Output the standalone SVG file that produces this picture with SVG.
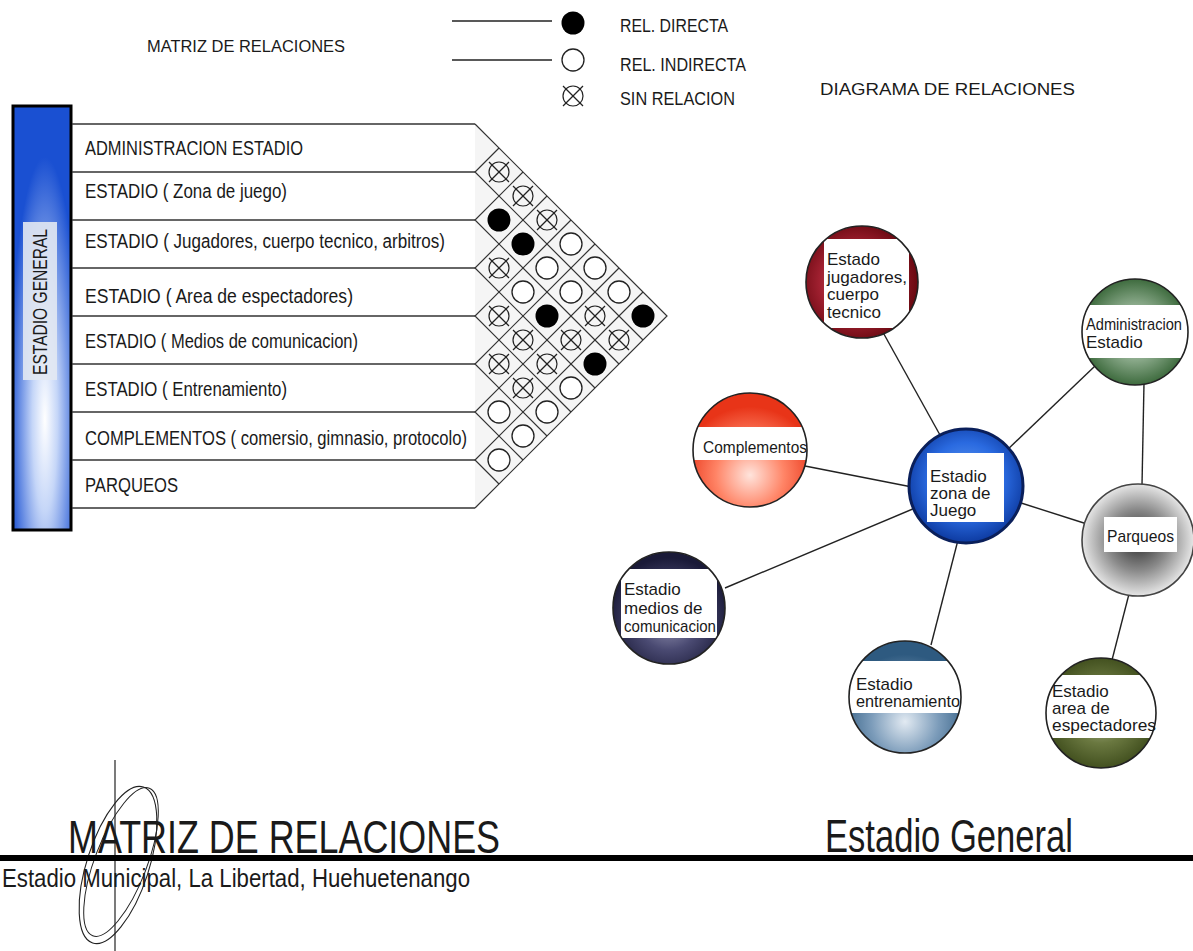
<svg xmlns="http://www.w3.org/2000/svg" width="1193" height="951" viewBox="0 0 1193 951">
<style>
  .t { font-family: "Liberation Sans Narrow", "Liberation Sans", Arial, sans-serif; fill: #1a1a1a; }
  .row { font-size: 20px; }
  .lbl { font-size: 17px; }
  .rowline { stroke: #333; stroke-width: 1.4; fill: none; }
  .grid { stroke: #333; stroke-width: 1.2; fill: none; }
  .conn { stroke: #222; stroke-width: 1.4; fill: none; }
  .nodec { stroke: #222; stroke-width: 1.6; }
  .box { fill: #ffffff; }
</style>
<defs>
  <radialGradient id="gBar" cx="0.55" cy="0.74" r="0.62">
    <stop offset="0" stop-color="#ffffff"/>
    <stop offset="0.35" stop-color="#c5d6f8"/>
    <stop offset="1" stop-color="#1a50d2"/>
  </radialGradient>
  <radialGradient id="gRed" cx="0.45" cy="0.5" r="0.55">
    <stop offset="0" stop-color="#d06070"/>
    <stop offset="0.6" stop-color="#a02030"/>
    <stop offset="1" stop-color="#680810"/>
  </radialGradient>
  <radialGradient id="gOrange" cx="0.5" cy="0.72" r="0.6">
    <stop offset="0" stop-color="#ffe4dc"/>
    <stop offset="0.5" stop-color="#ff8466"/>
    <stop offset="1" stop-color="#e83418"/>
  </radialGradient>
  <radialGradient id="gGreen" cx="0.5" cy="0.5" r="0.55">
    <stop offset="0" stop-color="#dce8dc"/>
    <stop offset="0.5" stop-color="#86a686"/>
    <stop offset="1" stop-color="#2e5e2e"/>
  </radialGradient>
  <radialGradient id="gBlue" cx="0.5" cy="0.45" r="0.55">
    <stop offset="0" stop-color="#6aa2f2"/>
    <stop offset="0.6" stop-color="#2a6ae0"/>
    <stop offset="1" stop-color="#0d3aa0"/>
  </radialGradient>
  <radialGradient id="gGray" cx="0.5" cy="0.5" r="0.55">
    <stop offset="0" stop-color="#2a2a2a"/>
    <stop offset="0.5" stop-color="#8a8a8a"/>
    <stop offset="1" stop-color="#fafafa"/>
  </radialGradient>
  <radialGradient id="gNavy" cx="0.5" cy="0.6" r="0.55">
    <stop offset="0" stop-color="#9a9ab8"/>
    <stop offset="0.5" stop-color="#4a4a72"/>
    <stop offset="1" stop-color="#1a1a38"/>
  </radialGradient>
  <radialGradient id="gSteel" cx="0.5" cy="0.72" r="0.6">
    <stop offset="0" stop-color="#e2eaf2"/>
    <stop offset="0.5" stop-color="#7c9cba"/>
    <stop offset="1" stop-color="#2e5a80"/>
  </radialGradient>
  <radialGradient id="gOlive" cx="0.5" cy="0.5" r="0.55">
    <stop offset="0" stop-color="#bcc4a4"/>
    <stop offset="0.5" stop-color="#6a7840"/>
    <stop offset="1" stop-color="#3a4818"/>
  </radialGradient>
  <clipPath id="cRed"><circle cx="862" cy="282" r="56"/></clipPath>
  <clipPath id="cOrange"><circle cx="750" cy="450" r="57"/></clipPath>
  <clipPath id="cGreen"><circle cx="1135" cy="332" r="53"/></clipPath>
  <clipPath id="cNavy"><circle cx="669" cy="608" r="56"/></clipPath>
  <clipPath id="cSteel"><circle cx="905" cy="697" r="56"/></clipPath>
  <clipPath id="cOlive"><circle cx="1101" cy="713" r="55"/></clipPath>
  <g id="sFull"><circle r="11.5" fill="#000"/></g>
  <g id="sOpen"><circle r="11" fill="#fff" stroke="#222" stroke-width="1.3"/></g>
  <g id="sNone" fill="none" stroke="#222" stroke-width="1.2">
    <circle r="10"/>
    <line x1="-10" y1="-10" x2="10" y2="10"/>
    <line x1="-10" y1="10" x2="10" y2="-10"/>
  </g>
</defs>

<rect width="1193" height="951" fill="#ffffff"/>

<!-- headings -->
<text class="t" x="147" y="52" font-size="16" textLength="198" lengthAdjust="spacingAndGlyphs">MATRIZ DE RELACIONES</text>
<text class="t" x="820" y="95" font-size="16" textLength="255" lengthAdjust="spacingAndGlyphs">DIAGRAMA DE RELACIONES</text>

<!-- legend -->
<g id="legend">
  <line x1="452" y1="21" x2="552" y2="21" stroke="#222" stroke-width="1.5"/>
  <line x1="452" y1="60" x2="552" y2="60" stroke="#222" stroke-width="1.5"/>
  <use href="#sFull" x="573" y="23"/>
  <use href="#sOpen" x="573" y="60"/>
  <use href="#sNone" x="573" y="96"/>
  <text class="t" x="620" y="32" font-size="19" textLength="108" lengthAdjust="spacingAndGlyphs">REL. DIRECTA</text>
  <text class="t" x="620" y="71" font-size="19" textLength="126" lengthAdjust="spacingAndGlyphs">REL. INDIRECTA</text>
  <text class="t" x="620" y="105" font-size="19" textLength="115" lengthAdjust="spacingAndGlyphs">SIN RELACION</text>
</g>

<!-- left bar -->
<g id="bar">
  <rect x="13" y="106" width="58" height="424" fill="url(#gBar)" stroke="#000" stroke-width="3"/>
  <rect x="23" y="222" width="34" height="158" fill="#e2e8f2" opacity="0.9"/>
  <text class="t" font-size="20" transform="translate(47,375) rotate(-90)" textLength="146" lengthAdjust="spacingAndGlyphs">ESTADIO GENERAL</text>
</g>

<!-- matrix rows -->
<g id="matrix">
  <polygon points="475,124 667,316 475,508" fill="#f5f5f5" stroke="none"/>
  <g class="rowline">
    <line x1="72" y1="124" x2="475" y2="124"/>
    <line x1="72" y1="172" x2="475" y2="172"/>
    <line x1="72" y1="220" x2="475" y2="220"/>
    <line x1="72" y1="268" x2="475" y2="268"/>
    <line x1="72" y1="316" x2="475" y2="316"/>
    <line x1="72" y1="364" x2="475" y2="364"/>
    <line x1="72" y1="412" x2="475" y2="412"/>
    <line x1="72" y1="460" x2="475" y2="460"/>
    <line x1="72" y1="508" x2="475" y2="508"/>
  </g>
  <g class="grid">
    <polyline points="475,124 667,316 475,508"/>
    <polyline points="499,148 475,172 643,340"/>
    <polyline points="523,172 475,220 619,364"/>
    <polyline points="547,196 475,268 595,388"/>
    <polyline points="571,220 475,316 571,412"/>
    <polyline points="595,244 475,364 547,436"/>
    <polyline points="619,268 475,412 523,460"/>
    <polyline points="643,292 475,460 499,484"/>
  </g>
  <g class="t row">
    <text x="85" y="155" textLength="218" lengthAdjust="spacingAndGlyphs">ADMINISTRACION ESTADIO</text>
    <text x="85" y="198" textLength="202" lengthAdjust="spacingAndGlyphs">ESTADIO ( Zona de juego)</text>
    <text x="85" y="248" textLength="360" lengthAdjust="spacingAndGlyphs">ESTADIO ( Jugadores, cuerpo tecnico, arbitros)</text>
    <text x="85" y="303" textLength="268" lengthAdjust="spacingAndGlyphs">ESTADIO ( Area de espectadores)</text>
    <text x="85" y="348" textLength="273" lengthAdjust="spacingAndGlyphs">ESTADIO ( Medios de comunicacion)</text>
    <text x="85" y="396" textLength="202" lengthAdjust="spacingAndGlyphs">ESTADIO ( Entrenamiento)</text>
    <text x="85" y="445" textLength="382" lengthAdjust="spacingAndGlyphs">COMPLEMENTOS ( comersio, gimnasio, protocolo)</text>
    <text x="85" y="492" textLength="93" lengthAdjust="spacingAndGlyphs">PARQUEOS</text>
  </g>
  <g id="cells">
    <use href="#sFull" x="499" y="220"/>
    <use href="#sFull" x="523" y="244"/>
    <use href="#sFull" x="547" y="316"/>
    <use href="#sFull" x="643" y="316"/>
    <use href="#sFull" x="595" y="364"/>
    <use href="#sOpen" x="571" y="244"/>
    <use href="#sOpen" x="547" y="268"/>
    <use href="#sOpen" x="595" y="268"/>
    <use href="#sOpen" x="523" y="292"/>
    <use href="#sOpen" x="571" y="292"/>
    <use href="#sOpen" x="619" y="292"/>
    <use href="#sOpen" x="571" y="388"/>
    <use href="#sOpen" x="499" y="412"/>
    <use href="#sOpen" x="547" y="412"/>
    <use href="#sOpen" x="523" y="436"/>
    <use href="#sOpen" x="499" y="460"/>
    <use href="#sNone" x="499" y="172"/>
    <use href="#sNone" x="523" y="196"/>
    <use href="#sNone" x="547" y="220"/>
    <use href="#sNone" x="499" y="268"/>
    <use href="#sNone" x="499" y="316"/>
    <use href="#sNone" x="595" y="316"/>
    <use href="#sNone" x="523" y="340"/>
    <use href="#sNone" x="571" y="340"/>
    <use href="#sNone" x="619" y="340"/>
    <use href="#sNone" x="499" y="364"/>
    <use href="#sNone" x="547" y="364"/>
    <use href="#sNone" x="523" y="388"/>
  </g>
</g>

<!-- connectors -->
<g id="connectors" class="conn">
  <line x1="880" y1="327" x2="940" y2="435"/>
  <line x1="805" y1="466" x2="912" y2="487"/>
  <line x1="1095" y1="366" x2="1005" y2="452"/>
  <line x1="1144" y1="383" x2="1142" y2="485"/>
  <line x1="1018" y1="502" x2="1087" y2="524"/>
  <line x1="725" y1="588" x2="915" y2="508"/>
  <line x1="958" y1="540" x2="931" y2="645"/>
  <line x1="1129" y1="594" x2="1112" y2="660"/>
</g>

<!-- nodes -->
<g id="node-jugadores">
  <circle cx="862" cy="282" r="56" fill="url(#gRed)"/>
  <rect class="box" x="824" y="239" width="85" height="89" clip-path="url(#cRed)"/>
  <circle cx="862" cy="282" r="56" fill="none" class="nodec"/>
  <g class="t lbl">
    <text x="827" y="265">Estado</text>
    <text x="827" y="283" textLength="80" lengthAdjust="spacingAndGlyphs">jugadores,</text>
    <text x="827" y="300">cuerpo</text>
    <text x="827" y="318">tecnico</text>
  </g>
</g>

<g id="node-complementos">
  <circle cx="750" cy="450" r="57" fill="url(#gOrange)"/>
  <rect class="box" x="693" y="427" width="116" height="33" clip-path="url(#cOrange)"/>
  <circle cx="750" cy="450" r="57" fill="none" class="nodec"/>
  <text class="t lbl" x="703" y="453" textLength="104" lengthAdjust="spacingAndGlyphs">Complementos</text>
</g>

<g id="node-administracion">
  <circle cx="1135" cy="332" r="53" fill="url(#gGreen)"/>
  <rect class="box" x="1080" y="305" width="110" height="53" clip-path="url(#cGreen)"/>
  <circle cx="1135" cy="332" r="53" fill="none" class="nodec"/>
  <g class="t lbl">
    <text x="1086" y="330" textLength="96" lengthAdjust="spacingAndGlyphs">Administracion</text>
    <text x="1086" y="348">Estadio</text>
  </g>
</g>

<g id="node-zona">
  <circle cx="966" cy="486" r="57" fill="url(#gBlue)"/>
  <rect class="box" x="927" y="453" width="77" height="69"/>
  <circle cx="966" cy="486" r="57" fill="none" stroke="#0a1f5a" stroke-width="3"/>
  <g class="t lbl">
    <text x="930" y="482">Estadio</text>
    <text x="930" y="499">zona de</text>
    <text x="930" y="516">Juego</text>
  </g>
</g>

<g id="node-parqueos">
  <circle cx="1138" cy="540" r="56" fill="url(#gGray)"/>
  <rect class="box" x="1104" y="517" width="73" height="35"/>
  <circle cx="1138" cy="540" r="56" fill="none" stroke="#444" stroke-width="1.6"/>
  <text class="t lbl" x="1107" y="542" textLength="67" lengthAdjust="spacingAndGlyphs">Parqueos</text>
</g>

<g id="node-medios">
  <circle cx="669" cy="608" r="56" fill="url(#gNavy)"/>
  <rect class="box" x="621" y="569" width="96" height="69" clip-path="url(#cNavy)"/>
  <circle cx="669" cy="608" r="56" fill="none" class="nodec"/>
  <g class="t lbl">
    <text x="624" y="595">Estadio</text>
    <text x="624" y="614">medios de</text>
    <text x="624" y="632" textLength="92" lengthAdjust="spacingAndGlyphs">comunicacion</text>
  </g>
</g>

<g id="node-entrenamiento">
  <circle cx="905" cy="697" r="56" fill="url(#gSteel)"/>
  <rect class="box" x="848" y="661" width="114" height="52" clip-path="url(#cSteel)"/>
  <circle cx="905" cy="697" r="56" fill="none" class="nodec"/>
  <g class="t lbl">
    <text x="856" y="690">Estadio</text>
    <text x="856" y="707" textLength="104" lengthAdjust="spacingAndGlyphs">entrenamiento</text>
  </g>
</g>

<g id="node-espectadores">
  <circle cx="1101" cy="713" r="55" fill="url(#gOlive)"/>
  <rect class="box" x="1045" y="675" width="112" height="63" clip-path="url(#cOlive)"/>
  <circle cx="1101" cy="713" r="55" fill="none" class="nodec"/>
  <g class="t lbl">
    <text x="1052" y="697">Estadio</text>
    <text x="1052" y="714">area de</text>
    <text x="1052" y="731" textLength="104" lengthAdjust="spacingAndGlyphs">espectadores</text>
  </g>
</g>

<!-- title block -->
<g id="title">
  <line x1="115" y1="760" x2="115" y2="951" stroke="#222" stroke-width="1.2"/>
  <ellipse cx="118" cy="865" rx="31" ry="82" transform="rotate(18 118 865)" fill="none" stroke="#222" stroke-width="1.1"/>
  <ellipse cx="121" cy="862" rx="26" ry="79" transform="rotate(21 121 862)" fill="none" stroke="#222" stroke-width="1"/>
  <rect x="0" y="855" width="1193" height="6" fill="#000"/>
  <text class="t" x="68" y="853" font-size="46" textLength="432" lengthAdjust="spacingAndGlyphs">MATRIZ DE RELACIONES</text>
  <text class="t" x="825" y="852" font-size="46" textLength="248" lengthAdjust="spacingAndGlyphs">Estadio General</text>
  <text class="t" x="2" y="887" font-size="26" textLength="468" lengthAdjust="spacingAndGlyphs">Estadio Municipal, La Libertad, Huehuetenango</text>
</g>
</svg>
